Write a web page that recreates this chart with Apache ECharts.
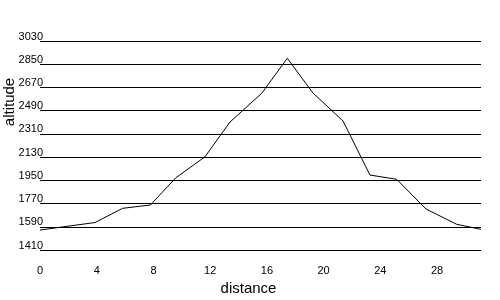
<!DOCTYPE html>
<html>
<head>
<meta charset="utf-8">
<script src="https://cdn.jsdelivr.net/npm/echarts@6/dist/echarts.min.js"></script>
<style>html,body{margin:0;padding:0;background:#fff}#c{width:500px;height:300px}</style>
</head>
<body>
<div id="c"></div>
<script>
var distances = [0, 3.88, 5.82, 7.79, 9.56, 11.64, 13.4, 15.63, 17.44, 19.25, 21.37, 23.27, 25.15, 27.22, 29.39, 31.1];
var altitudes = [1565, 1623, 1733, 1759, 1968, 2133, 2402, 2624, 2896, 2627, 2410, 1991, 1958, 1728, 1609, 1570];
var yTicks = { min: 1410, max: 3030, step: 180 };
var xTicks = { min: 0, max: 31.1, step: 4 };
var xName = 'distance';
var yName = 'altitude';

var chart = echarts.init(document.getElementById('c'), null, { renderer: 'canvas' });
var font = 'Liberation Sans, Arial, sans-serif';
chart.setOption({
  animation: false,
  backgroundColor: '#ffffff',
  grid: { left: 40, right: 19, top: 41, bottom: 50, containLabel: false, outerBoundsMode: 'none' },
  xAxis: {
    type: 'value',
    min: xTicks.min, max: xTicks.max, interval: xTicks.step,
    name: xName, nameLocation: 'middle', nameGap: 28,
    nameTextStyle: { fontFamily: font, fontSize: 15, color: '#000', padding: [0, 24, 0, 0] },
    axisLine: { show: false }, axisTick: { show: false }, splitLine: { show: false },
    axisLabel: { fontFamily: font, fontSize: 11, color: '#000', margin: 15, showMaxLabel: false,
      formatter: function (v) { return String(v); } }
  },
  yAxis: {
    type: 'value',
    min: yTicks.min, max: yTicks.max, interval: yTicks.step,
    axisLine: { show: false }, axisTick: { show: false },
    splitLine: { show: true, lineStyle: { color: '#000', width: 1 } },
    axisLabel: { fontFamily: font, fontSize: 11, color: '#000', margin: -3, verticalAlign: 'bottom', padding: [0, 0, -1, 0],
      formatter: function (v) { return String(v); } }
  },
  graphic: [{
    type: 'text', x: 2, y: 102, rotation: Math.PI / 2,
    style: { text: yName, fontFamily: font, fontSize: 15, fill: '#000', textAlign: 'center', textVerticalAlign: 'top' }
  }],
  series: [{
    type: 'line',
    data: distances.map(function (d, i) { return [d, altitudes[i]]; }),
    symbol: 'none', smooth: false,
    lineStyle: { color: '#000', width: 1 }
  }]
});
</script>
</body>
</html>
